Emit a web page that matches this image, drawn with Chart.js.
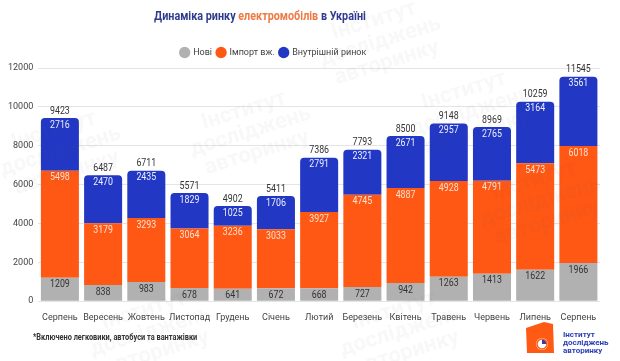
<!DOCTYPE html>
<html>
<head>
<meta charset="utf-8">
<script src="https://cdn.jsdelivr.net/npm/chart.js@4.4.0/dist/chart.umd.min.js"></script>
<style>
  html, body { margin: 0; padding: 0; background: #fff; }
  #wrap { position: relative; width: 620px; height: 361px; overflow: hidden; font-family: Roboto, sans-serif; }
  #title { position: absolute; top: 9px; left: 260px; white-space: nowrap; font-size: 12px; font-weight: bold; color: #2e3b8f; transform: translateX(-50%) scaleX(0.9); }
  #title span { color: #ef7a44; }
  #note { position: absolute; left: 33px; top: 332px; white-space: nowrap; font-size: 9px; font-weight: bold; color: #333; transform: scaleX(0.82); transform-origin: left top; }
  #logo { position: absolute; left: 526px; top: 322px; width: 90px; height: 32px; }
  #logo .shape { position: absolute; left: 0; top: 0; }
  #logo .txt { position: absolute; left: 37px; top: 9px; font-size: 8px; line-height: 8px; font-weight: bold; color: #2a3fb5; }
  canvas { position: absolute; left: 0; top: 0; }
</style>
</head>
<body>
<div id="wrap">
  <canvas id="chart" width="620" height="361"></canvas>
  <div id="title">Динаміка ринку <span>електромобілів</span> в Україні</div>
  <div id="note">*Включено легковики, автобуси та вантажівки</div>
  <div id="logo">
    <svg class="shape" width="30" height="32" viewBox="0 0 30 32">
      <path d="M0 6 L18 0 L27 2 L28 31 L1 31 Z" fill="#ff5a14"/>
      <circle cx="16" cy="22" r="6" fill="#fff"/>
      <path d="M16 22 L16 17 A5 5 0 0 1 21 22 Z" fill="#2a3fb5"/>
      <circle cx="16" cy="22" r="5" fill="none" stroke="#ff5a14" stroke-width="1.5"/>
    </svg>
    <div class="txt">Інститут<br>досліджень<br>авторинку</div>
  </div>
</div>
<script>
const months = ['Серпень', 'Вересень', 'Жовтень', 'Листопад', 'Грудень', 'Січень', 'Лютий', 'Березень', 'Квітень', 'Травень', 'Червень', 'Липень', 'Серпень'];
const newCars = [1209, 838, 983, 678, 641, 672, 668, 727, 942, 1263, 1413, 1622, 1966];
const imported = [5498, 3179, 3293, 3064, 3236, 3033, 3927, 4745, 4887, 4928, 4791, 5473, 6018];
const domestic = [2716, 2470, 2435, 1829, 1025, 1706, 2791, 2321, 2671, 2957, 2765, 3164, 3561];
const totals = [9423, 6487, 6711, 5571, 4902, 5411, 7386, 7793, 8500, 9148, 8969, 10259, 11545];
const yTicks = [0, 2000, 4000, 6000, 8000, 10000, 12000];

const labelColors = ['#333333', '#ffe2d2', '#eef0ff'];

function narrowText(ctx, text, x, y) {
  ctx.save()
  ctx.translate(x, y)
  ctx.scale(0.84, 1)
  ctx.fillText(text, 0, 0)
  ctx.restore()
}

// values inside each segment + total over each bar
const valueLabels = {
  id: 'valueLabels',
  afterDatasetsDraw(chart) {
    const ctx = chart.ctx
    ctx.save()
    ctx.font = '10.5px Roboto'
    ctx.textAlign = 'center'
    ctx.textBaseline = 'middle'
    chart.data.datasets.forEach((ds, di) => {
      const meta = chart.getDatasetMeta(di)
      meta.data.forEach((bar, i) => {
        ctx.fillStyle = labelColors[di]
        narrowText(ctx, ds.data[i], bar.x, bar.y + 7)
        if (di === 2) {
          ctx.fillStyle = '#333333'
          narrowText(ctx, totals[i], bar.x, bar.y - 7)
        }
      })
    })
    ctx.restore()
  }
}

// faint watermark of the institute
const watermark = {
  id: 'watermark',
  afterDraw(chart) {
    const ctx = chart.ctx
    const spots = [[60, 150], [250, 130], [470, 110], [380, 40], [540, 200], [150, 330], [400, 330]]
    ctx.save()
    ctx.globalAlpha = 0.045
    ctx.fillStyle = '#555'
    ctx.font = 'bold 22px Roboto'
    ctx.textAlign = 'center'
    spots.forEach(([x, y]) => {
      ctx.save()
      ctx.translate(x, y)
      ctx.rotate(-0.3)
      ctx.fillText('Інститут', 0, -20)
      ctx.fillText('досліджень', 0, 2)
      ctx.fillText('авторинку', 0, 24)
      ctx.restore()
    })
    ctx.restore()
  }
}

// move legend left/up, as in the original layout
const legendShift = {
  id: 'legendShift',
  afterLayout(chart) {
    chart.legend.left -= 28
    chart.legend.right -= 28
    chart.legend.top -= 1
    chart.legend.bottom -= 1
  }
}

new Chart(document.getElementById('chart'), {
  type: 'bar',
  data: {
    labels: months,
    datasets: [
      { label: 'Нові', data: newCars, backgroundColor: '#b1b1b1' },
      { label: 'Імпорт вж.', data: imported, backgroundColor: '#ff5714' },
      { label: 'Внутрішній ринок', data: domestic, backgroundColor: '#2238c4',
        borderRadius: { topLeft: 4, topRight: 4 }, borderSkipped: 'bottom' }
    ]
  },
  options: {
    responsive: false,
    animation: false,
    layout: { padding: { top: 44, left: 3, right: 20, bottom: 35 } },
    datasets: { bar: { barPercentage: 0.88, categoryPercentage: 1 } },
    plugins: {
      title: { display: false },
      tooltip: { enabled: false },
      legend: {
        position: 'top',
        labels: {
          usePointStyle: true,
          pointStyle: 'circle',
          boxWidth: 8,
          boxHeight: 8,
          padding: 5,
          color: '#444',
          font: { family: 'Roboto', size: 9 }
        }
      }
    },
    scales: {
      x: {
        stacked: true,
        grid: { display: false },
        border: { display: false },
        ticks: { color: '#444', font: { family: 'Roboto', size: 9 }, padding: 3, maxRotation: 0, autoSkip: false }
      },
      y: {
        stacked: true,
        min: 0,
        max: 12000,
        afterBuildTicks(axis) { axis.ticks = yTicks.map(v => ({ value: v })) },
        grid: { color: '#e4e4e4', drawTicks: false },
        border: { display: false },
        ticks: { color: '#444', font: { family: 'Roboto', size: 9 }, padding: 5, callback: v => String(v) }
      }
    }
  },
  plugins: [valueLabels, watermark, legendShift]
})
</script>
</body>
</html>
